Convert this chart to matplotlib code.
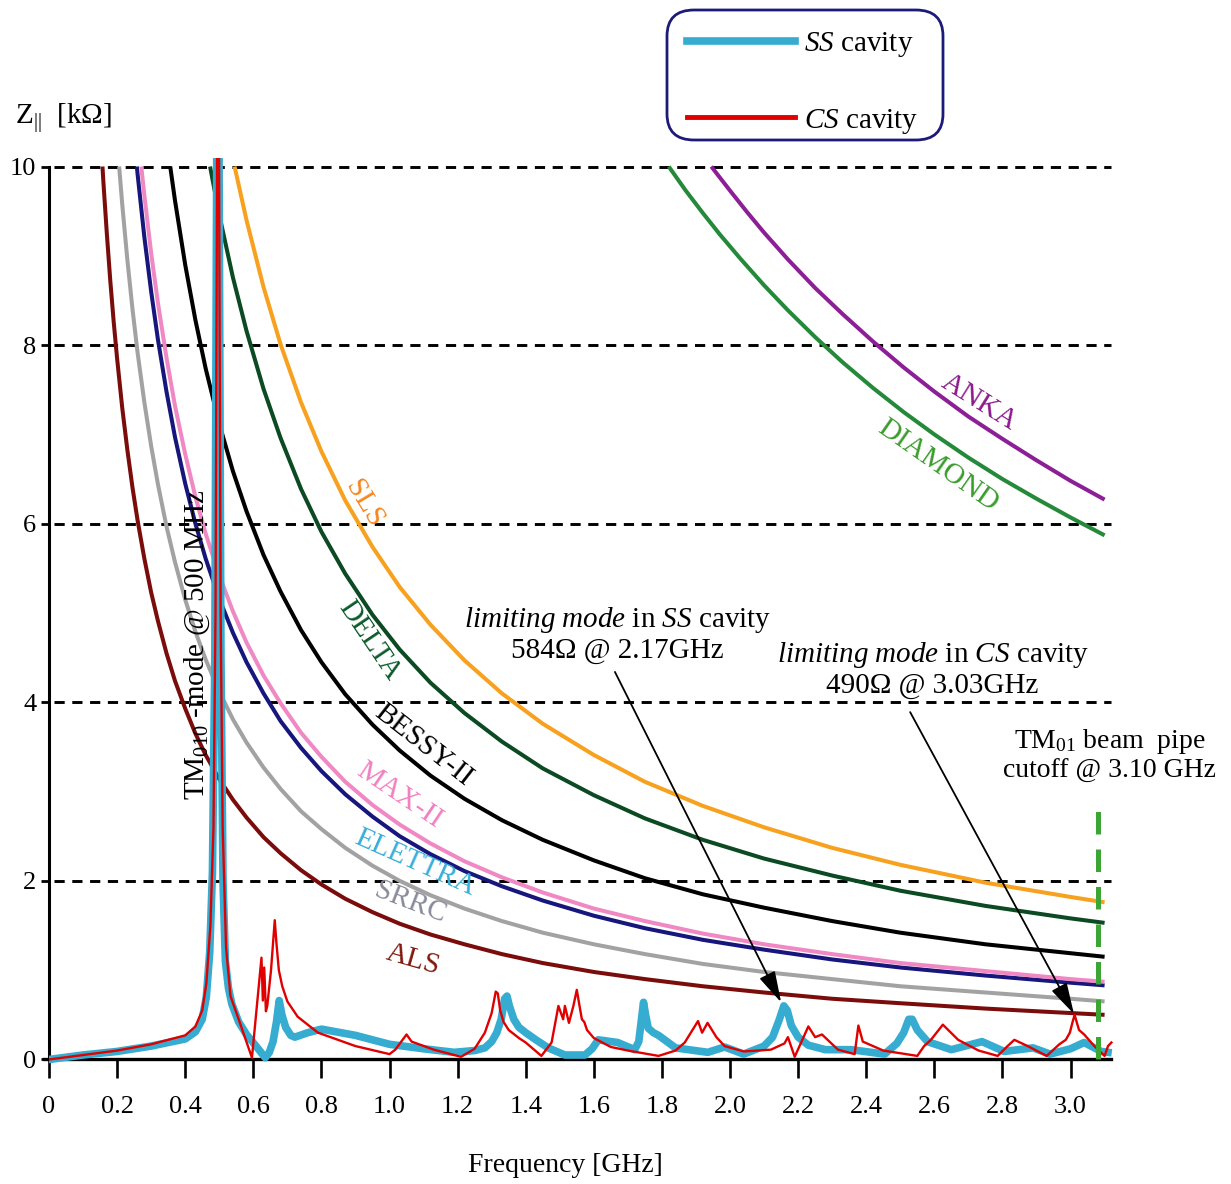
import matplotlib
matplotlib.use('Agg')
import matplotlib.pyplot as plt
from matplotlib.lines import Line2D
from matplotlib.patches import FancyBboxPatch

plt.rcParams['font.family'] = ['Liberation Serif', 'DejaVu Serif']
plt.rcParams['mathtext.fontset'] = 'custom'
plt.rcParams['mathtext.rm'] = 'Liberation Serif'
plt.rcParams['mathtext.it'] = 'Liberation Serif:italic'
plt.rcParams['mathtext.bf'] = 'Liberation Serif:bold'

# threshold curves: frequency [GHz], impedance [kOhm]
als_f = [0.157, 0.16, 0.17, 0.18, 0.19, 0.2, 0.215, 0.23, 0.245, 0.26, 0.28, 0.3, 0.32, 0.345, 0.37,
         0.4, 0.43, 0.46, 0.5, 0.54, 0.58, 0.63, 0.68, 0.74, 0.8, 0.87, 0.95, 1.03, 1.12, 1.22, 1.33,
         1.45, 1.6, 1.75, 1.92, 2.1, 2.3, 2.5, 2.75, 3.0, 3.1]
als_z = [10, 9.81, 9.24, 8.72, 8.26, 7.85, 7.30, 6.83, 6.41, 6.04, 5.61, 5.23, 4.91, 4.55, 4.24,
         3.93, 3.65, 3.41, 3.14, 2.91, 2.71, 2.49, 2.31, 2.12, 1.96, 1.80, 1.65, 1.52, 1.40, 1.29, 1.18,
         1.08, 0.98, 0.90, 0.82, 0.75, 0.68, 0.63, 0.57, 0.52, 0.50]

srrc_f = [0.206, 0.215, 0.23, 0.245, 0.26, 0.28, 0.3, 0.32, 0.345, 0.37, 0.4, 0.43, 0.46, 0.5, 0.54,
          0.58, 0.63, 0.68, 0.74, 0.8, 0.87, 0.95, 1.03, 1.12, 1.22, 1.33, 1.45, 1.6, 1.75, 1.92,
          2.1, 2.3, 2.5, 2.75, 3.0, 3.1]
srrc_z = [10, 9.58, 8.96, 8.41, 7.92, 7.36, 6.87, 6.44, 5.97, 5.57, 5.15, 4.79, 4.48, 4.12, 3.81,
          3.55, 3.27, 3.03, 2.78, 2.58, 2.37, 2.17, 2.0, 1.84, 1.69, 1.55, 1.42, 1.29, 1.18, 1.07,
          0.98, 0.90, 0.82, 0.75, 0.68, 0.65]

elettra_f = [0.258, 0.26, 0.28, 0.3, 0.32, 0.345, 0.37, 0.4, 0.43, 0.46, 0.5, 0.54, 0.58, 0.63, 0.68,
             0.74, 0.8, 0.87, 0.95, 1.03, 1.12, 1.22, 1.33, 1.45, 1.6, 1.75, 1.92, 2.1, 2.3, 2.5,
             2.75, 3.0, 3.1]
elettra_z = [10, 9.92, 9.21, 8.6, 8.06, 7.48, 6.97, 6.45, 6.0, 5.61, 5.16, 4.78, 4.45, 4.10, 3.79,
             3.49, 3.23, 2.97, 2.72, 2.50, 2.30, 2.11, 1.94, 1.78, 1.61, 1.47, 1.34, 1.23, 1.12, 1.03,
             0.94, 0.86, 0.83]

max2_f = [0.271, 0.28, 0.3, 0.32, 0.345, 0.37, 0.4, 0.43, 0.46, 0.5, 0.54, 0.58, 0.63, 0.68, 0.74,
          0.8, 0.87, 0.95, 1.03, 1.12, 1.22, 1.33, 1.45, 1.6, 1.75, 1.92, 2.1, 2.3, 2.5, 2.75, 3.0, 3.1]
max2_z = [10, 9.68, 9.03, 8.47, 7.86, 7.32, 6.78, 6.30, 5.89, 5.42, 5.02, 4.67, 4.30, 3.99, 3.66,
          3.39, 3.11, 2.85, 2.63, 2.42, 2.22, 2.04, 1.87, 1.69, 1.55, 1.41, 1.29, 1.18, 1.08, 0.99, 0.90, 0.87]

bessy_f = [0.356, 0.37, 0.4, 0.43, 0.46, 0.5, 0.54, 0.58, 0.63, 0.68, 0.74, 0.8, 0.87, 0.95, 1.03,
           1.12, 1.22, 1.33, 1.45, 1.6, 1.75, 1.92, 2.1, 2.3, 2.5, 2.75, 3.0, 3.1]
bessy_z = [10, 9.62, 8.9, 8.28, 7.74, 7.12, 6.59, 6.14, 5.65, 5.24, 4.81, 4.45, 4.09, 3.75, 3.46,
           3.18, 2.92, 2.68, 2.46, 2.23, 2.03, 1.85, 1.70, 1.55, 1.42, 1.29, 1.19, 1.15]

delta_f = [0.473, 0.5, 0.54, 0.58, 0.63, 0.68, 0.74, 0.8, 0.87, 0.95, 1.03, 1.12, 1.22, 1.33, 1.45,
           1.6, 1.75, 1.92, 2.1, 2.3, 2.5, 2.75, 3.0, 3.1]
delta_z = [10, 9.46, 8.76, 8.16, 7.51, 6.96, 6.39, 5.91, 5.44, 4.98, 4.59, 4.22, 3.88, 3.56, 3.26,
           2.96, 2.70, 2.46, 2.25, 2.06, 1.89, 1.72, 1.58, 1.53]

sls_f = [0.545, 0.58, 0.63, 0.68, 0.74, 0.8, 0.87, 0.95, 1.03, 1.12, 1.22, 1.33, 1.45, 1.6, 1.75,
         1.92, 2.1, 2.3, 2.5, 2.75, 3.0, 3.1]
sls_z = [10, 9.40, 8.65, 8.01, 7.36, 6.81, 6.26, 5.74, 5.29, 4.87, 4.47, 4.10, 3.76, 3.41, 3.11,
         2.84, 2.60, 2.37, 2.18, 1.98, 1.82, 1.76]

diamond_f = [1.82, 1.87, 1.92, 1.97, 2.03, 2.1, 2.17, 2.25, 2.33, 2.42, 2.51, 2.6, 2.7, 2.8, 2.9, 3.0, 3.1]
diamond_z = [10, 9.73, 9.48, 9.24, 8.97, 8.67, 8.39, 8.09, 7.81, 7.52, 7.25, 7.0, 6.74, 6.5, 6.28, 6.07, 5.87]

anka_f = [1.945, 2.0, 2.05, 2.1, 2.17, 2.25, 2.33, 2.42, 2.51, 2.6, 2.7, 2.8, 2.9, 3.0, 3.1]
anka_z = [10, 9.73, 9.49, 9.26, 8.96, 8.64, 8.35, 8.04, 7.75, 7.48, 7.20, 6.95, 6.71, 6.48, 6.27]

# measured spectra (f [GHz], Z [kOhm])
ss_points = [
    (0.0, 0.0), (0.1, 0.05), (0.2, 0.09), (0.3, 0.15), (0.4, 0.23), (0.43, 0.31), (0.45, 0.45),
    (0.462, 0.7), (0.472, 1.2), (0.48, 2.1), (0.487, 4.5), (0.493, 10.5), (0.499, 10.5), (0.505, 4.5),
    (0.511, 2.0), (0.518, 1.1), (0.527, 0.8), (0.537, 0.62), (0.557, 0.42), (0.58, 0.28), (0.61, 0.14),
    (0.635, 0.02), (0.647, 0.08), (0.658, 0.2), (0.668, 0.42), (0.676, 0.66), (0.684, 0.5), (0.695, 0.36),
    (0.71, 0.27), (0.722, 0.25), (0.76, 0.3), (0.8, 0.34), (0.9, 0.27), (1.0, 0.17), (1.1, 0.12),
    (1.19, 0.08), (1.25, 0.1), (1.28, 0.13), (1.30, 0.2), (1.315, 0.3), (1.328, 0.45), (1.338, 0.68),
    (1.345, 0.71), (1.352, 0.6), (1.365, 0.45), (1.38, 0.36), (1.40, 0.3), (1.43, 0.22), (1.466, 0.13),
    (1.515, 0.05), (1.574, 0.05), (1.595, 0.12), (1.613, 0.22), (1.67, 0.19), (1.72, 0.11), (1.732, 0.2),
    (1.74, 0.45), (1.746, 0.64), (1.752, 0.5), (1.76, 0.35), (1.775, 0.3), (1.79, 0.27), (1.84, 0.13),
    (1.935, 0.08), (1.984, 0.14), (2.04, 0.06), (2.10, 0.15), (2.125, 0.25), (2.145, 0.45), (2.158, 0.6),
    (2.168, 0.55), (2.18, 0.38), (2.2, 0.25), (2.23, 0.16), (2.28, 0.11), (2.355, 0.11), (2.454, 0.06),
    (2.49, 0.18), (2.51, 0.3), (2.525, 0.45), (2.535, 0.45), (2.55, 0.33), (2.58, 0.2), (2.65, 0.11),
    (2.70, 0.16), (2.74, 0.2), (2.805, 0.09), (2.89, 0.13), (2.94, 0.06), (3.0, 0.12), (3.04, 0.19),
    (3.09, 0.09), (3.11, 0.08),
]
cs_points = [
    (0.0, 0.0), (0.1, 0.05), (0.2, 0.1), (0.3, 0.17), (0.4, 0.27), (0.43, 0.37), (0.45, 0.55),
    (0.462, 0.85), (0.474, 1.5), (0.483, 2.6), (0.489, 5.0), (0.494, 10.5), (0.499, 10.5), (0.504, 5.0),
    (0.51, 2.6), (0.52, 1.25), (0.533, 0.71), (0.557, 0.45), (0.596, 0.02), (0.624, 1.14), (0.628, 0.66),
    (0.632, 1.03), (0.637, 0.54), (0.641, 0.6), (0.652, 1.0), (0.663, 1.56), (0.668, 1.3), (0.675, 1.0),
    (0.685, 0.82), (0.7, 0.65), (0.73, 0.48), (0.753, 0.41), (0.79, 0.3), (0.9, 0.15), (1.0, 0.06),
    (1.017, 0.11), (1.05, 0.28), (1.065, 0.2), (1.13, 0.11), (1.21, 0.03), (1.25, 0.12), (1.28, 0.3),
    (1.30, 0.52), (1.312, 0.76), (1.318, 0.74), (1.325, 0.55), (1.335, 0.42), (1.35, 0.33), (1.38, 0.24),
    (1.40, 0.19), (1.446, 0.04), (1.476, 0.19), (1.496, 0.6), (1.51, 0.45), (1.515, 0.6), (1.527, 0.41),
    (1.54, 0.6), (1.55, 0.78), (1.558, 0.6), (1.565, 0.45), (1.572, 0.42), (1.58, 0.33), (1.6, 0.24),
    (1.65, 0.14), (1.7, 0.1), (1.79, 0.04), (1.84, 0.1), (1.867, 0.19), (1.906, 0.43), (1.918, 0.3),
    (1.934, 0.41), (1.96, 0.25), (1.984, 0.15), (2.04, 0.09), (2.12, 0.11), (2.16, 0.18), (2.17, 0.25),
    (2.19, 0.03), (2.23, 0.37), (2.25, 0.25), (2.27, 0.28), (2.317, 0.11), (2.366, 0.06), (2.377, 0.38),
    (2.39, 0.2), (2.45, 0.1), (2.55, 0.04), (2.57, 0.15), (2.59, 0.22), (2.625, 0.39), (2.67, 0.22),
    (2.73, 0.1), (2.786, 0.04), (2.815, 0.15), (2.835, 0.22), (2.874, 0.15), (2.93, 0.04), (2.967, 0.17),
    (2.986, 0.22), (2.998, 0.3), (3.006, 0.42), (3.012, 0.5), (3.018, 0.42), (3.025, 0.33), (3.04, 0.28),
    (3.07, 0.15), (3.1, 0.04), (3.11, 0.15), (3.12, 0.19),
]

grid_levels = [2, 4, 6, 8, 10]
x_ticks = [0, 0.2, 0.4, 0.6, 0.8, 1.0, 1.2, 1.4, 1.6, 1.8, 2.0, 2.2, 2.4, 2.6, 2.8, 3.0]
x_tick_labels = ['0', '0.2', '0.4', '0.6', '0.8', '1.0', '1.2', '1.4', '1.6', '1.8',
                 '2.0', '2.2', '2.4', '2.6', '2.8', '3.0']
y_ticks = [0, 2, 4, 6, 8, 10]
cutoff_f = 3.08

W, H = 1231, 1184
fig = plt.figure(figsize=(W / 100, H / 100), dpi=100)
ax = fig.add_axes([49 / W, 0.1014, 1065.8 / W, 0.7655])
ax.set_xlim(0, 3.13)
ax.set_ylim(-0.05, 10.1)

for s in ['top', 'right']:
    ax.spines[s].set_visible(False)
ax.spines['bottom'].set_position(('data', 0))
ax.spines['left'].set_bounds(0, 10)
ax.spines['bottom'].set_bounds(-0.015, 3.12)
ax.spines['left'].set_linewidth(2.2)
ax.spines['bottom'].set_linewidth(2.4)

ax.hlines(grid_levels, 0.015, 3.12, colors='black', linestyles=(0, (3.5, 2.6)), lw=2.1, zorder=1)

curves = [
    (als_f, als_z, '#7b0c0c'),
    (srrc_f, srrc_z, '#a2a2a2'),
    (elettra_f, elettra_z, '#16167c'),
    (max2_f, max2_z, '#f088c4'),
    (bessy_f, bessy_z, 'black'),
    (delta_f, delta_z, '#0b4a22'),
    (sls_f, sls_z, '#f7a11e'),
    (diamond_f, diamond_z, '#25893a'),
    (anka_f, anka_z, '#8c1f96'),
]
for f, z, c in curves:
    ax.plot(f, z, color=c, lw=2.9, zorder=2, solid_capstyle='butt', solid_joinstyle='round')

ss_color = '#36acd0'
cs_color = '#e00000'
ss_f, ss_z = zip(*ss_points)
cs_f, cs_z = zip(*cs_points)
ax.plot(ss_f, ss_z, color=ss_color, lw=5.5, zorder=3, solid_joinstyle='round')
ax.plot(cs_f, cs_z, color=cs_color, lw=1.7, zorder=4)

ax.vlines(cutoff_f, 0, 2.9, colors='#3ca635', linestyles=(0, (4.5, 3)), lw=3.6, zorder=5)

# curve labels
lab = dict(fontsize=21, ha='center', va='center', rotation_mode='anchor')
ax.text(0.925, 6.22, 'SLS', color='#f7861a', rotation=-59, **lab)
ax.text(0.94, 4.69, 'DELTA', color='#0b5a2a', rotation=-56, **lab)
ax.text(1.10, 3.52, 'BESSY-II', color='black', rotation=-38, **lab)
ax.text(1.03, 2.96, 'MAX-II', color='#f080c0', rotation=-34, **lab)
ax.text(1.075, 2.20, 'ELETTRA', color='#38aed8', rotation=-24, **lab)
ax.text(1.06, 1.75, 'SRRC', color='#8a8a9a', rotation=-21, **lab)
ax.text(1.07, 1.12, 'ALS', color='#7e1a0e', rotation=-16, **lab)
ax.text(2.73, 7.36, 'ANKA', color='#8c1a8c', rotation=-32, **lab)
ax.text(2.61, 6.65, 'DIAMOND', color='#3a9c2c', rotation=-35, **lab)
ax.text(0.437, 4.64, r'TM$_{010}$ -mode @ 500 MHz', fontsize=21, rotation=90,
        ha='center', va='center')

# limiting modes
ax.text(1.67, 4.76, '$\\mathit{limiting\\ mode}$ in $\\mathit{SS}$ cavity\n584Ω @ 2.17GHz',
        fontsize=21, ha='center', va='center', linespacing=1.15)
ax.text(2.595, 4.37, '$\\mathit{limiting\\ mode}$ in $\\mathit{CS}$ cavity\n490Ω @ 3.03GHz',
        fontsize=21, ha='center', va='center', linespacing=1.15)
arrow = dict(arrowstyle='-|>,head_length=0.8,head_width=0.22', color='black', lw=1.3,
             mutation_scale=24, shrinkA=0, shrinkB=0)
ax.annotate('', xy=(2.150, 0.64), xytext=(1.662, 4.34), arrowprops=arrow)
ax.annotate('', xy=(3.010, 0.51), xytext=(2.529, 3.89), arrowprops=arrow)

ax.text(3.115, 3.40, 'TM$_{01}$ beam  pipe\ncutoff @ 3.10 GHz', fontsize=20,
        ha='center', va='center', linespacing=1.15)

ax.set_xticks(x_ticks)
ax.set_xticklabels(x_tick_labels)
ax.set_yticks(y_ticks)
ax.tick_params(axis='x', direction='out', length=14, width=1.9, pad=12, labelsize=19)
ax.tick_params(axis='y', direction='out', length=6, width=2, pad=3, labelsize=19)

ax.set_xlabel('Frequency [GHz]', fontsize=20)
ax.xaxis.set_label_coords(0.4845, -0.098)
fig.text(15 / W, 1 - 118 / H, 'Z$_{||}$  [kΩ]', fontsize=21, ha='left', va='center')

# legend: rounded frame drawn separately so it can match the box size
fig.patches.append(FancyBboxPatch((667 / W, 1 - 140 / H), 276 / W, 130 / H,
                                  boxstyle='round,pad=0,rounding_size=0.022',
                                  transform=fig.transFigure, facecolor='white',
                                  edgecolor='#1c1c78', lw=2, zorder=0))
h_ss = Line2D([], [], color=ss_color, lw=5.5)
h_cs = Line2D([], [], color=cs_color, lw=3.5)
fig.legend([h_ss, h_cs], ['$\\mathit{SS}$ cavity', '$\\mathit{CS}$ cavity'],
           loc='upper left', bbox_to_anchor=(667 / W, 1 - 10 / H), fontsize=21,
           handlelength=3.7, handletextpad=0.3, labelspacing=1.62, borderpad=0.7,
           borderaxespad=0, frameon=False)

fig.savefig('out.png', dpi=100)
